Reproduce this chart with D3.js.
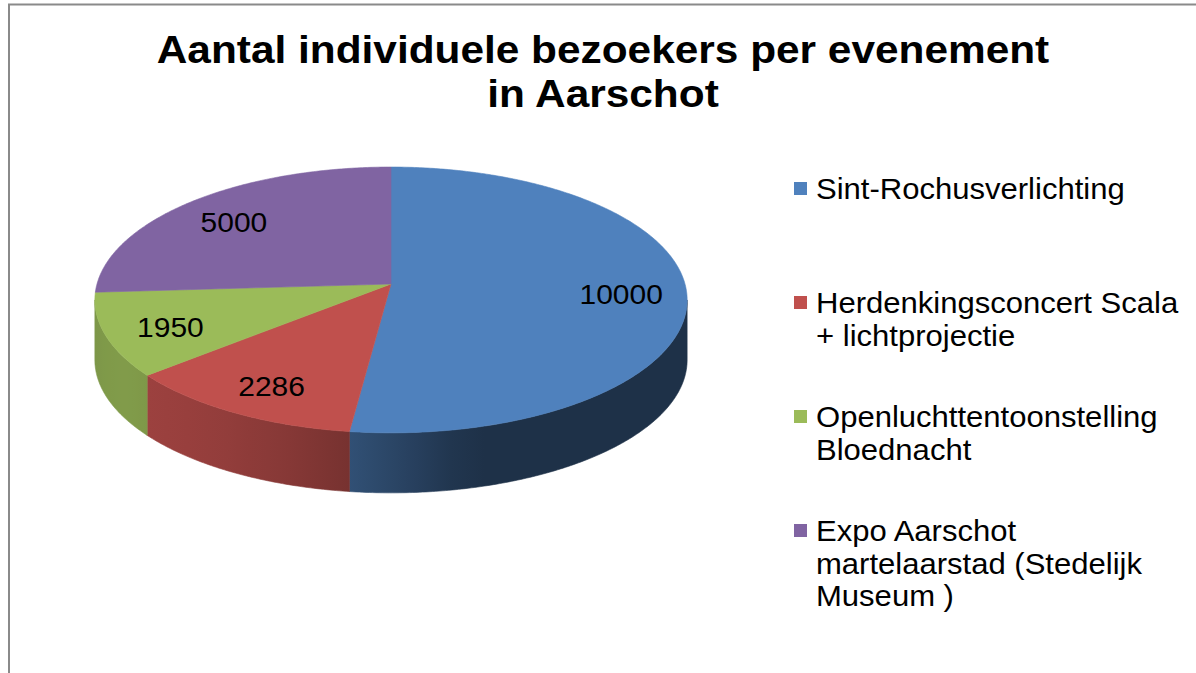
<!DOCTYPE html>
<html>
<head>
<meta charset="utf-8">
<script src="https://cdn.jsdelivr.net/npm/d3@7"></script>
<style>
  html, body { margin: 0; padding: 0; background: #fff; }
  svg { display: block; }
  text { font-family: "Liberation Sans", Arial, sans-serif; fill: #000; }
</style>
</head>
<body>
<div id="chart"></div>
<script>
const titleLines = ["Aantal individuele bezoekers per evenement", "in Aarschot"];
const categories = [
  "Sint-Rochusverlichting",
  "Herdenkingsconcert Scala + lichtprojectie",
  "Openluchttentoonstelling Bloednacht",
  "Expo Aarschot martelaarstad (Stedelijk Museum )"
];
// legend text as it wraps in the picture
const legendLines = [
  ["Sint-Rochusverlichting"],
  ["Herdenkingsconcert Scala", "+ lichtprojectie"],
  ["Openluchttentoonstelling", "Bloednacht"],
  ["Expo Aarschot", "martelaarstad (Stedelijk", "Museum )"]
];
const values = [10000, 2286, 1950, 5000];
const colors = ["#4F81BD", "#C0504D", "#9BBB59", "#8064A2"];

const width = 1196, height = 673;

// 3d pie geometry
const cx = 391, cy = 284, rx = 294, ry = 131, persp = 0.12, depth = 60;

const svg = d3.select("#chart").append("svg")
  .attr("width", width)
  .attr("height", height);

const defs = svg.append("defs");

// chart border (only top and left are inside the picture)
svg.append("path")
  .attr("d", `M9,${height} L9,4.5 L${width},4.5`)
  .attr("fill", "none")
  .attr("stroke", "#8a8a8a")
  .attr("stroke-width", 2);

// stretch text horizontally a bit, the source renders wider than Arial
function stretch(sel, f) {
  sel.each(function () {
    const w = this.getComputedTextLength();
    d3.select(this).attr("textLength", w * f).attr("lengthAdjust", "spacingAndGlyphs");
  });
}

// title
const title = svg.append("g");
title.selectAll("text")
  .data(titleLines)
  .enter()
  .append("text")
  .attr("x", 603)
  .attr("y", (d, i) => 63 + i * 44)
  .attr("text-anchor", "middle")
  .style("font-size", "38px")
  .style("font-weight", "bold")
  .text(d => d)
  .call(stretch, 1.115);

// projection of a point on the unit disc (angle clockwise from top)
function proj(theta, r) {
  const u = r * Math.sin(theta), v = -r * Math.cos(theta);
  const s = 1 / (1 - persp * v);
  return [cx + rx * u * s, cy + ry * v * s];
}

function samples(a0, a1) {
  const n = Math.max(2, Math.ceil((a1 - a0) / 0.01));
  return d3.range(n + 1).map(i => a0 + (a1 - a0) * i / n);
}

const pie = d3.pie().sort(null).value(d => d)(values);
const line = d3.line();

// side shading: lighter towards front-left
function shade(color, theta) {
  const k = 0.38 + 0.45 * Math.max(0, Math.cos(theta - 245 * Math.PI / 180));
  const c = d3.rgb(color);
  return d3.rgb(c.r * k, c.g * k, c.b * k).toString();
}

// visible part of the rim lies between the two silhouette angles
const visL = Math.acos(-persp);
const visR = 2 * Math.PI - Math.acos(-persp);

const sides = svg.append("g");
pie.forEach((p, i) => {
  const a0 = Math.max(p.startAngle, visL), a1 = Math.min(p.endAngle, visR);
  if (a1 <= a0) return;
  const angs = samples(a0, a1);
  const top = angs.map(a => proj(a, 1));
  const bot = top.map(q => [q[0], q[1] + depth]).reverse();
  const x0 = top[0][0], x1 = top[top.length - 1][0];
  const grad = defs.append("linearGradient")
    .attr("id", "side" + i)
    .attr("gradientUnits", "userSpaceOnUse")
    .attr("x1", x0).attr("x2", x1).attr("y1", 0).attr("y2", 0);
  d3.range(11).forEach(j => {
    const a = a0 + (a1 - a0) * j / 10;
    grad.append("stop")
      .attr("offset", j / 10)
      .attr("stop-color", shade(colors[i], a));
  });
  sides.append("path")
    .attr("d", line(top.concat(bot)) + "Z")
    .attr("fill", `url(#side${i})`)
    .attr("stroke", `url(#side${i})`)
    .attr("stroke-width", 0.6);
});

// top faces
const faces = svg.append("g");
faces.selectAll("path")
  .data(pie)
  .enter()
  .append("path")
  .attr("d", d => line([[cx, cy]].concat(samples(d.startAngle, d.endAngle).map(a => proj(a, 1)))) + "Z")
  .attr("fill", (d, i) => colors[i])
  .attr("stroke", (d, i) => colors[i])
  .attr("stroke-width", 0.6);

// data labels
svg.append("g").selectAll("text")
  .data(pie)
  .enter()
  .append("text")
  .attr("x", d => proj((d.startAngle + d.endAngle) / 2, 0.78)[0])
  .attr("y", d => proj((d.startAngle + d.endAngle) / 2, 0.78)[1] + 14)
  .attr("text-anchor", "middle")
  .style("font-size", "28px")
  .text(d => d.data)
  .call(stretch, 1.07);

// legend
const legend = svg.append("g");
const item = legend.selectAll("g")
  .data(legendLines)
  .enter()
  .append("g")
  .attr("transform", (d, i) => `translate(794, ${199 + i * 114})`);

item.append("rect")
  .attr("x", 0)
  .attr("y", -17)
  .attr("width", 13)
  .attr("height", 13)
  .attr("fill", (d, i) => colors[i]);

item.selectAll("text")
  .data(d => d)
  .enter()
  .append("text")
  .attr("x", 22)
  .attr("y", (d, j) => j * 32.5)
  .style("font-size", "29px")
  .text(d => d)
  .call(stretch, 1.07);
</script>
</body>
</html>
